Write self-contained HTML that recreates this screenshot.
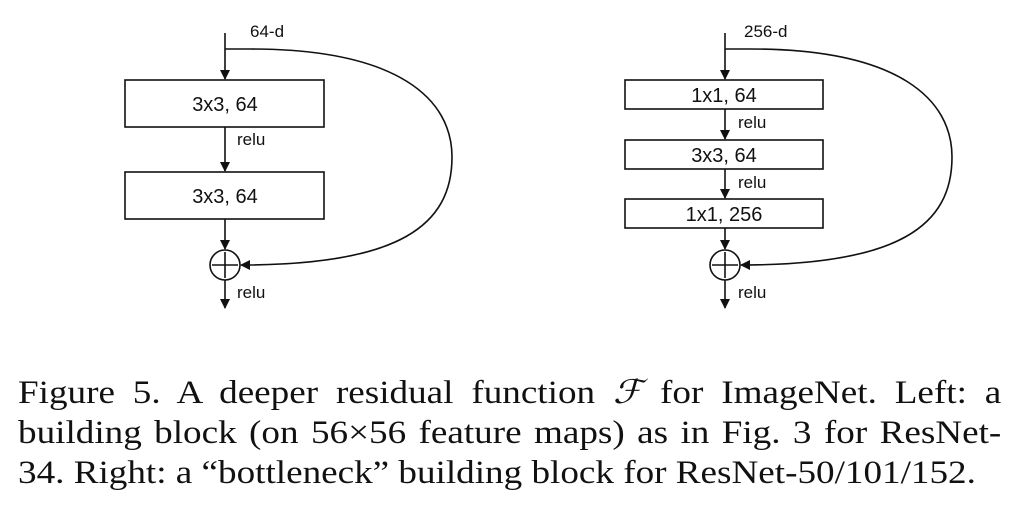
<!DOCTYPE html>
<html><head><style>
html,body{margin:0;padding:0;background:#fff;}
svg{display:block;position:absolute;left:0;top:0;}
.s{font-family:"Liberation Sans","DejaVu Sans",sans-serif;fill:#111;}
.cap{position:absolute;left:18px;top:373px;width:874px;transform:scaleX(1.125);transform-origin:0 0;font-family:"Liberation Serif","Times New Roman",serif;font-size:33px;line-height:40px;color:#111;}
.cap span{display:block;text-align:justify;text-align-last:justify;white-space:nowrap;}
.cap span.l{text-align-last:left;}
</style></head><body>
<svg width="1013" height="521" viewBox="0 0 1013 521" xmlns="http://www.w3.org/2000/svg">
<defs><marker id="a" markerWidth="10" markerHeight="10" refX="9" refY="5" orient="auto" markerUnits="userSpaceOnUse"><path d="M0,0 L10,5 L0,10 z" fill="#111"/></marker></defs>
<g stroke="#111" stroke-width="1.6" fill="none">
<line x1="225" y1="33" x2="225" y2="79" marker-end="url(#a)"/>
<rect x="125" y="80" width="199" height="47" fill="#fff"/>
<line x1="225" y1="127" x2="225" y2="171" marker-end="url(#a)"/>
<rect x="125" y="172" width="199" height="47" fill="#fff"/>
<line x1="225" y1="219" x2="225" y2="249" marker-end="url(#a)"/>
<circle cx="225" cy="265" r="15"/>
<line x1="212" y1="265" x2="238" y2="265"/><line x1="225" y1="252" x2="225" y2="278"/>
<line x1="225" y1="280" x2="225" y2="308" marker-end="url(#a)"/>
<path d="M225,49 L250,49 C400,49 452,100 452,157 C452,225 400,265 241,265" marker-end="url(#a)"/>
<line x1="725" y1="33" x2="725" y2="79" marker-end="url(#a)"/>
<rect x="625" y="80" width="198" height="29" fill="#fff"/>
<line x1="725" y1="109" x2="725" y2="139" marker-end="url(#a)"/>
<rect x="625" y="140" width="198" height="29" fill="#fff"/>
<line x1="725" y1="169" x2="725" y2="198" marker-end="url(#a)"/>
<rect x="625" y="199" width="198" height="29" fill="#fff"/>
<line x1="725" y1="228" x2="725" y2="249" marker-end="url(#a)"/>
<circle cx="725" cy="265" r="15"/>
<line x1="712" y1="265" x2="738" y2="265"/><line x1="725" y1="252" x2="725" y2="278"/>
<line x1="725" y1="280" x2="725" y2="308" marker-end="url(#a)"/>
<path d="M725,49 L750,49 C900,49 952,100 952,157 C952,225 900,265 741,265" marker-end="url(#a)"/>
</g>
<g class="s">
<text x="250" y="37" font-size="17">64-d</text>
<text x="225" y="111" font-size="20" text-anchor="middle">3x3, 64</text>
<text x="237" y="145" font-size="17">relu</text>
<text x="225" y="203" font-size="20" text-anchor="middle">3x3, 64</text>
<text x="237" y="298" font-size="17">relu</text>
<text x="744" y="37" font-size="17">256-d</text>
<text x="724" y="102" font-size="20" text-anchor="middle">1x1, 64</text>
<text x="738" y="128" font-size="17">relu</text>
<text x="724" y="162" font-size="20" text-anchor="middle">3x3, 64</text>
<text x="738" y="188" font-size="17">relu</text>
<text x="724" y="221" font-size="20" text-anchor="middle">1x1, 256</text>
<text x="738" y="298" font-size="17">relu</text>
</g>
</svg>
<div class="cap">
<span>Figure 5. A deeper residual function <i>ℱ</i> for ImageNet. Left: a</span>
<span>building block (on 56×56 feature maps) as in Fig. 3 for ResNet-</span>
<span class="l">34. Right: a “bottleneck” building block for ResNet-50/101/152.</span>
</div>
</body></html>
